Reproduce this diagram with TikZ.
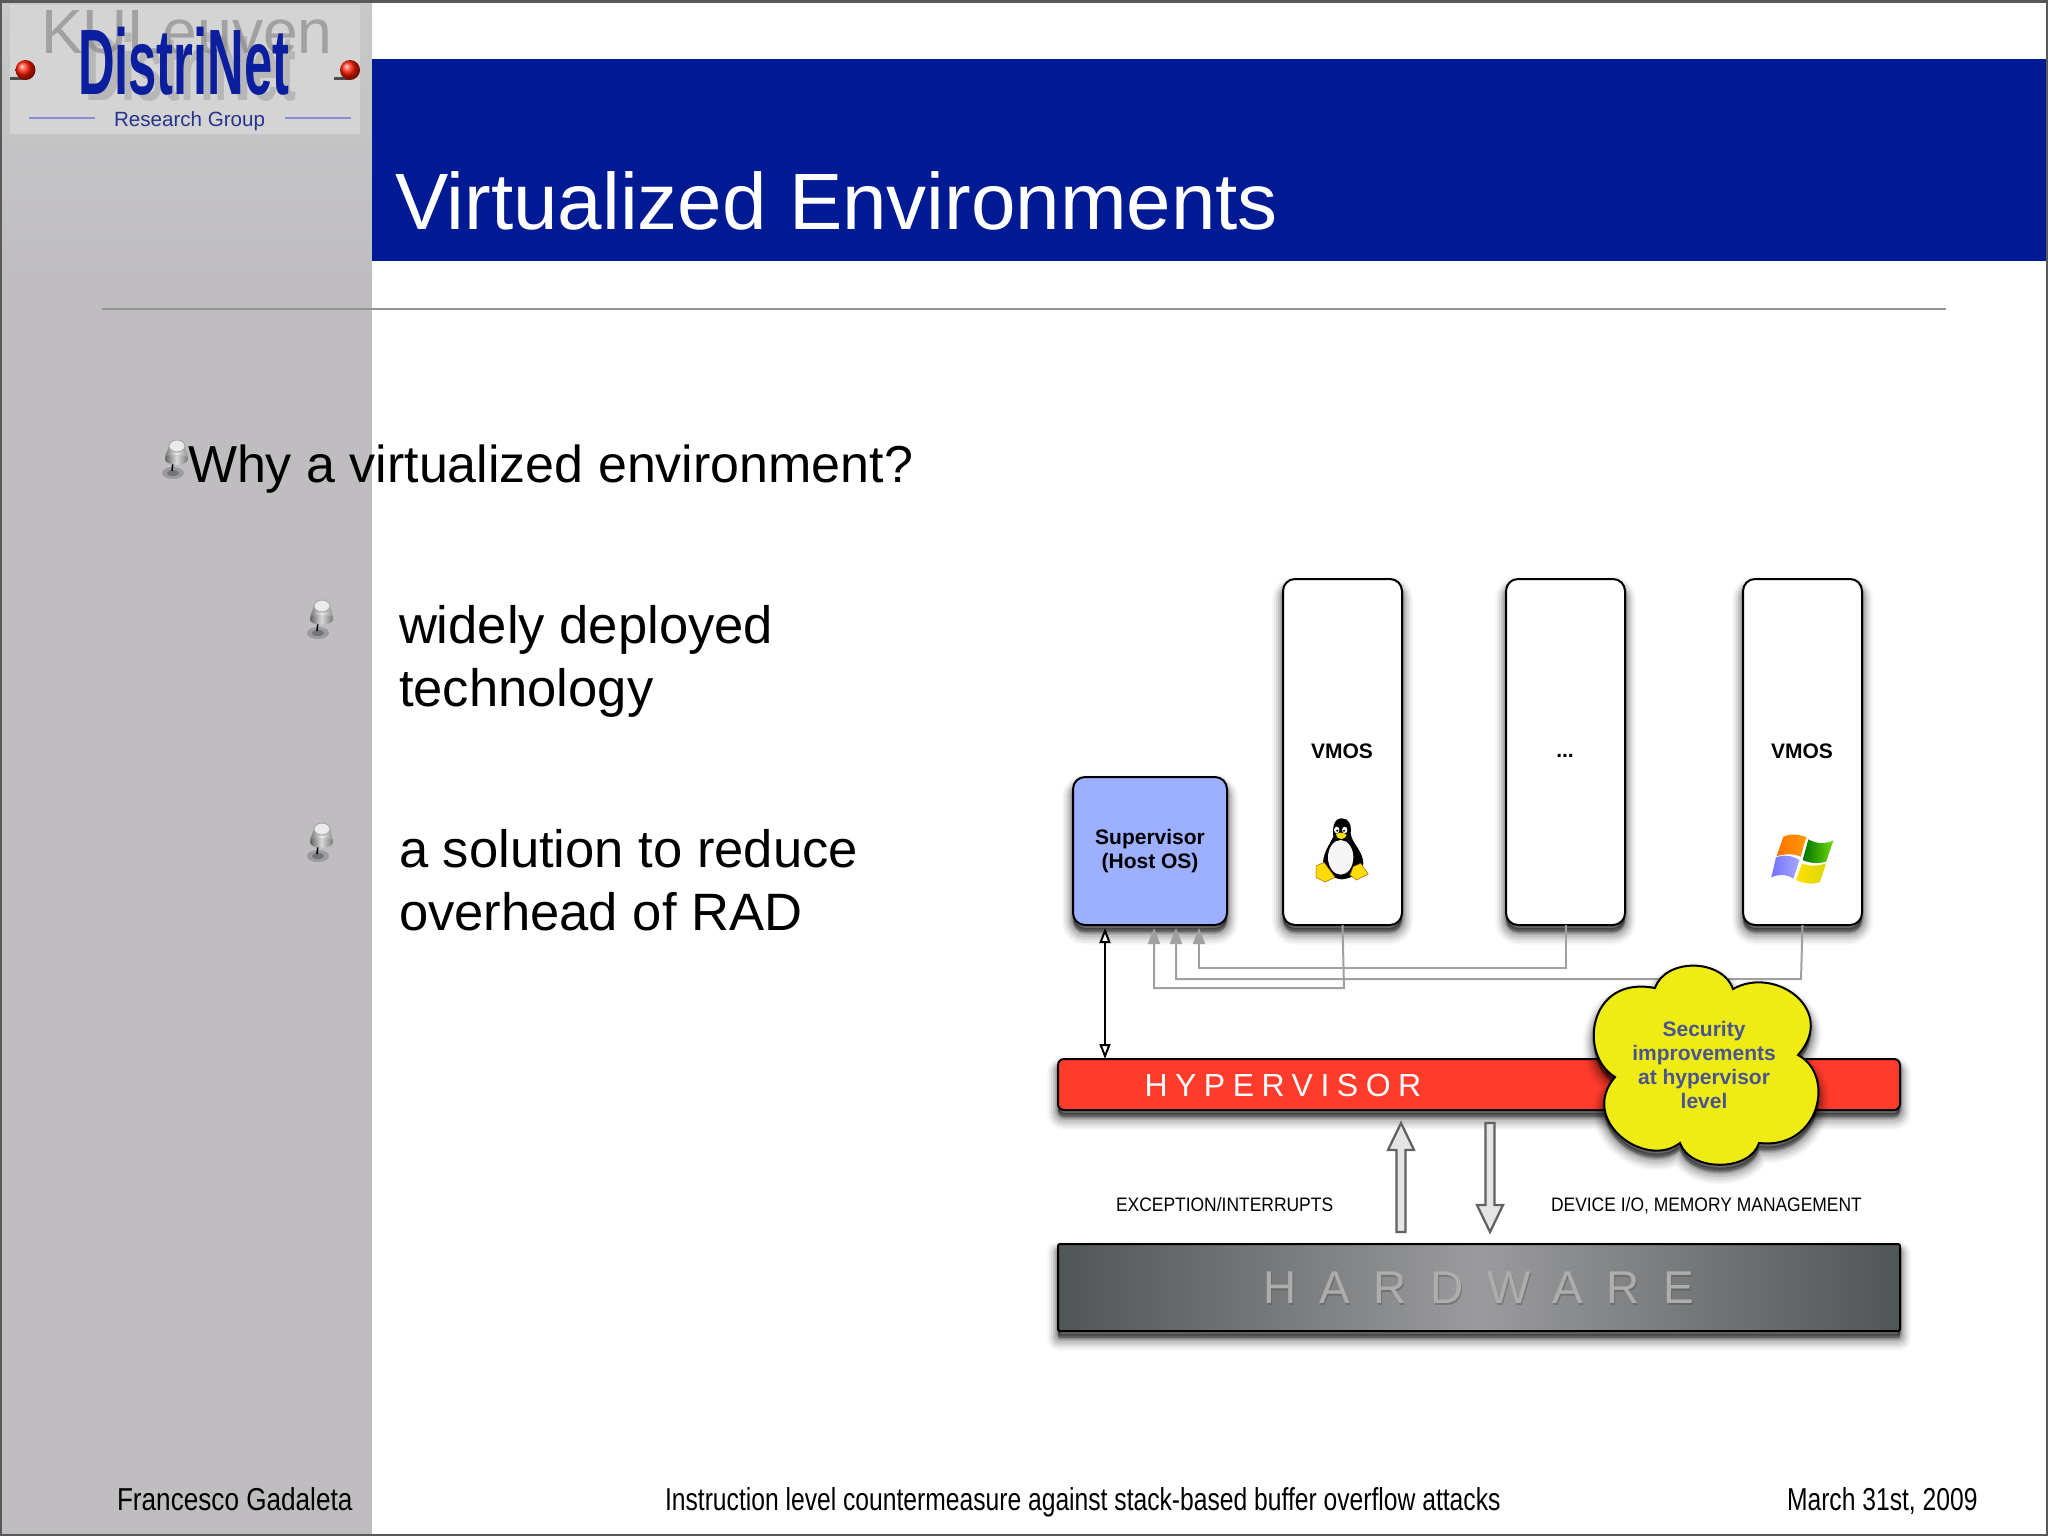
\documentclass[tikz,border=0pt]{standalone}
\usepackage{fontspec}
\setmainfont{Liberation Sans}
\newfontfamily\narrowfont[FakeStretch=0.825]{Liberation Sans}
\newfontfamily\narrowerfont[FakeStretch=0.778]{Liberation Sans}
\newfontfamily\labfont[FakeStretch=0.895]{Liberation Sans}
\newfontfamily\hwfont[LetterSpace=51]{Liberation Sans}
\newfontfamily\hvfont[LetterSpace=23.5]{Liberation Sans}
\usetikzlibrary{arrows.meta,shadings,fadings}
\newcommand{\pxf}[2]{\fontsize{\fpeval{#1*0.569}pt}{\fpeval{#2*0.569}pt}\selectfont}
\definecolor{bandblue}{HTML}{001A93}
\definecolor{panelgrey}{HTML}{BFBDC0}
\definecolor{panelhi}{HTML}{C9C9C9}
\definecolor{supblue}{HTML}{9DAFFF}
\definecolor{hypred}{HTML}{FF3B2B}
\definecolor{cloudyel}{HTML}{EFEB14}
\definecolor{cloudtxt}{HTML}{4A5590}
\definecolor{linkgrey}{HTML}{A0A0A0}
\definecolor{logoblue}{HTML}{0A1E9E}
\definecolor{hwedge}{HTML}{505555}
\definecolor{hwmid}{HTML}{9B9B9D}
\tikzset{
  softshadow/.style={
    preaction={draw=black,fill=black,opacity=.035,line width=.44cm,transform canvas={yshift=-.17cm}},
    preaction={draw=black,fill=black,opacity=.05,line width=.36cm,transform canvas={yshift=-.17cm}},
    preaction={draw=black,fill=black,opacity=.07,line width=.28cm,transform canvas={yshift=-.16cm}},
    preaction={draw=black,fill=black,opacity=.09,line width=.20cm,transform canvas={yshift=-.15cm}},
    preaction={draw=black,fill=black,opacity=.12,line width=.13cm,transform canvas={yshift=-.13cm}},
    preaction={draw=black,fill=black,opacity=.15,line width=.07cm,transform canvas={yshift=-.10cm}},
    preaction={draw=black,fill=black,opacity=.15,line width=.02cm,transform canvas={yshift=-.07cm}}},
  boxsize/.style 2 args={minimum width=#1*0.02cm,minimum height=#2*0.02cm},
  sysbox/.style={draw=black,line width=.04cm,rounded corners=.24cm,inner sep=0pt,outer sep=0pt,softshadow,align=center,font=\bfseries\pxf{21}{24}},
  barbox/.style={draw=black,line width=.04cm,rounded corners=.12cm,inner sep=0pt,outer sep=0pt,softshadow},
  txt/.style={inner sep=0pt,outer sep=0pt,anchor=base west},
  bodytxt/.style={inner sep=0pt,outer sep=0pt,anchor=north west,align=left,font=\pxf{52.6}{63.5}},
  foot/.style={inner sep=0pt,outer sep=0pt,anchor=base west,font=\narrowerfont\pxf{31.7}{36}},
  smalllab/.style={inner sep=0pt,outer sep=0pt,anchor=base west,font=\labfont\pxf{19.5}{22}},
  greylink/.style={draw=linkgrey,line width=.04cm,-{Triangle[length=.32cm,width=.24cm,fill=linkgrey]}},
  blockarrow/.style={draw=black!62,fill=black!10,line width=.045cm,line join=miter},
  thumbpin/.pic={
    \fill[black,opacity=.18] (-4,27) ellipse (11 and 6);
    \fill[black,opacity=.25] (-4,27) ellipse (6 and 3);
    \draw[black,line width=.03cm] (-4,16) -- (-5,25);
    \path[left color=black!55,right color=black!45,middle color=black!8] (-12,11) -- (-8,0) -- (8,0) -- (11,11) -- cycle;
    \path[left color=black!70,right color=black!60,middle color=black!15] (-12,12) .. controls (-14,21) and (13,21) .. (11,12) .. controls (10,8) and (-11,8) .. (-12,12) -- cycle;
    \fill[white!92!black,draw=black!35,line width=.02cm] (0,0) ellipse (8 and 6);
  },
}
\begin{document}
\begin{tikzpicture}[x=0.02cm,y=-0.02cm]
\useasboundingbox (0,0) rectangle (2048,1536);
\fill[white] (0,0) rectangle (2048,1536);
% panel
\fill[panelgrey] (0,0) rectangle (372,1536);
\shade[top color=panelhi,bottom color=panelgrey] (0,0) rectangle (372,280);
% band
\fill[bandblue] (372,59) rectangle (2048,261);
% logo
\fill[black!17] (10,5) rectangle (360,134);
\node[txt,text=black!37,font=\pxf{62.5}{66}] (ku) at (41,53) {KULeuven};
\node[txt,text=black!45,opacity=.4,font=\bfseries\pxf{93}{93},xscale=.546] (dsh) at (85,100) {DistriNet};
\node[txt,text=logoblue,font=\bfseries\pxf{93}{93},xscale=.546] (dn) at (78,94) {DistriNet};
\node[txt,text=logoblue!80!black,opacity=.85,font=\pxf{20.6}{22}] (rg) at (114,126) {Research Group};
\draw[logoblue!50!white,line width=.04cm] (29,118) -- (95,118) (285,118) -- (351,118);
\fill[black!70] (10,77) rectangle (26,80);
\shade[ball color=red!80!orange] (25.5,70) circle (10);
\fill[black!70] (334,77) rectangle (350,80);
\shade[ball color=red!80!orange] (350,70) circle (10);
% title etc.
\node[txt,text=white,font=\pxf{80}{84}] (title) at (395,229) {Virtualized Environments};
\draw[black!42,line width=.04cm] (102,309) -- (1946,309);
\pic at (177,446) {thumbpin};
\pic at (322,606) {thumbpin};
\pic at (322,829) {thumbpin};
\node[txt,font=\pxf{52}{63}] (why) at (188,482) {Why a virtualized environment?};
\node[bodytxt] (b1) at (399,605) {widely deployed\\technology};
\node[bodytxt] (b2) at (399,829) {a solution to reduce\\overhead of RAD};
% connectors
\coordinate (g1) at (1154,928);
\coordinate (g2) at (1176,928);
\coordinate (g3) at (1199,928);
\coordinate (ba) at (1105,928);
\coordinate (bb) at (1105,1059);
% boxes
\node[sysbox,boxsize={154}{148},fill=supblue] (sup) at (1150,851) {Supervisor\\(Host OS)};
\node[sysbox,boxsize={119}{346},fill=white] (vm1) at (1342.5,752) {};
\node[sysbox,boxsize={119}{346},fill=white] (vm2) at (1565.5,752) {};
\node[sysbox,boxsize={119}{346},fill=white] (vm3) at (1802.5,752) {};
\node[inner sep=0pt,font=\bfseries\pxf{21}{24}] (l1) at (1342,751) {VMOS};
\node[inner sep=0pt,font=\bfseries\pxf{21}{24}] (l2) at (1565,756) {...};
\node[inner sep=0pt,font=\bfseries\pxf{21}{24}] (l3) at (1802,751) {VMOS};
\draw[greylink] (vm1.south) -- (1344,988) -| (g1);
\draw[greylink] (vm3.south) -- (1801,979) -| (g2);
\draw[greylink] (vm2.south) -- (1565.5,968) -| (g3);
% hypervisor
\node[barbox,boxsize={842}{51},fill=hypred] (hyp) at (1479,1084.5) {};
\node[txt,text=white,font=\hvfont\pxf{32}{34}] (hypt) at (1144.5,1096) {HYPERVISOR};
\draw[black,line width=.04cm,{Triangle[open,length=.3cm,width=.22cm,fill=white]}-{Triangle[open,length=.3cm,width=.22cm,fill=white]}] (ba) -- (bb);
% cloud
\path[draw=black,line width=.04cm,fill=cloudyel,softshadow,line join=miter]
 (1655,988) .. controls (1665,958) and (1722,958) .. (1733,989)
 .. controls (1775,965) and (1838,1010) .. (1798,1055)
 .. controls (1836,1075) and (1820,1150) .. (1759,1143)
 .. controls (1750,1172) and (1690,1172) .. (1680,1143)
 .. controls (1645,1170) and (1578,1120) .. (1615,1077)
 .. controls (1578,1055) and (1588,975) .. (1655,988) -- cycle;
\node[inner sep=0pt,align=center,text=cloudtxt,font=\bfseries\pxf{21}{24}] (sec) at (1704,1065) {Security\\improvements\\at hypervisor\\level};
% block arrows
\draw[blockarrow] (1396.5,1232) -- (1396.5,1150) -- (1388,1150) -- (1401,1123) -- (1414,1150) -- (1405.5,1150) -- (1405.5,1232) -- cycle;
\draw[blockarrow] (1485.5,1123) -- (1485.5,1205) -- (1477,1205) -- (1490,1232) -- (1503,1205) -- (1494.5,1205) -- (1494.5,1123) -- cycle;
\node[smalllab] (exc) at (1116,1211) {EXCEPTION/INTERRUPTS};
\node[smalllab] (dev) at (1551,1211) {DEVICE I/O, MEMORY MANAGEMENT};
% hardware
\node[barbox,rounded corners=.04cm,boxsize={842}{87},left color=hwedge,right color=hwedge,middle color=hwmid] (hw) at (1479,1287.5) {};
\node[txt,text=black!70,opacity=.4,font=\hwfont\pxf{46}{48}] (hwsh) at (1264,1305) {HARDWARE};
\node[txt,text=black!32,font=\hwfont\pxf{46}{48}] (hwt) at (1263,1303) {HARDWARE};
% tux
\begin{scope}[shift={(1300,800)},x=0.00667cm,y=-0.00667cm]
\fill[black] (125,55) .. controls (100,55) and (97,85) .. (100,110) .. controls (85,140) and (65,165) .. (70,200) .. controls (75,215) and (95,235) .. (125,238) .. controls (160,235) and (185,215) .. (190,190) .. controls (188,150) and (155,130) .. (152,100) .. controls (155,70) and (145,55) .. (125,55) -- cycle;
\fill[white!96!black] (122,172) ellipse (38 and 52);
\fill[white] (110,90) ellipse (8 and 10) (134,90) ellipse (8 and 10);
\fill[black] (112,92) circle (3.5) (132,92) circle (3.5);
\fill[yellow!85!orange] (108,103) .. controls (115,96) and (130,96) .. (140,105) .. controls (135,118) and (115,125) .. (108,103) -- cycle;
\fill[yellow!80!orange,draw=orange!70!black,line width=.01cm] (48,198) -- (72,187) -- (105,232) -- (75,246) -- (48,232) -- cycle;
\fill[yellow!80!orange,draw=orange!70!black,line width=.01cm] (150,225) -- (160,200) -- (182,190) -- (205,222) -- (170,240) -- cycle;
\end{scope}
% windows flag
\begin{scope}[shift={(1740,720)},x=0.00667cm,y=-0.00667cm]
\shade[left color=orange!90!red,right color=orange!80!yellow] (130,350) .. controls (150,340) and (175,342) .. (200,352) .. controls (190,375) and (188,390) .. (182,410) .. controls (160,400) and (135,402) .. (110,408) -- cycle;
\shade[left color=green!45!black,right color=green!50!yellow!85!black] (205,358) .. controls (230,372) and (255,372) .. (280,362) .. controls (272,385) and (265,405) .. (258,425) .. controls (235,432) and (210,430) .. (188,420) -- cycle;
\shade[left color=blue!55!white,right color=blue!35!white] (108,412) .. controls (130,404) and (155,405) .. (178,420) .. controls (172,440) and (165,460) .. (160,476) .. controls (140,462) and (115,462) .. (94,472) -- cycle;
\shade[left color=yellow!75!orange,right color=yellow!85!black] (186,430) .. controls (210,440) and (235,438) .. (258,430) .. controls (252,450) and (245,470) .. (240,486) .. controls (215,495) and (190,490) .. (168,480) -- cycle;
\end{scope}
% footer
\node[foot,font=\narrowfont\pxf{31.7}{36}] (f1) at (117,1510) {Francesco Gadaleta};
\node[foot] (f2) at (665,1510) {Instruction level countermeasure against stack-based buffer overflow attacks};
\node[foot] (f3) at (1787,1510) {March 31st, 2009};
% frame
\draw[black!65,line width=.05cm] (0,1535) -- (2048,1535) (2047,0) -- (2047,1536);
\draw[black!65,line width=.06cm] (1,1536) -- (1,1) -- (2048,1);
\end{tikzpicture}
\end{document}
